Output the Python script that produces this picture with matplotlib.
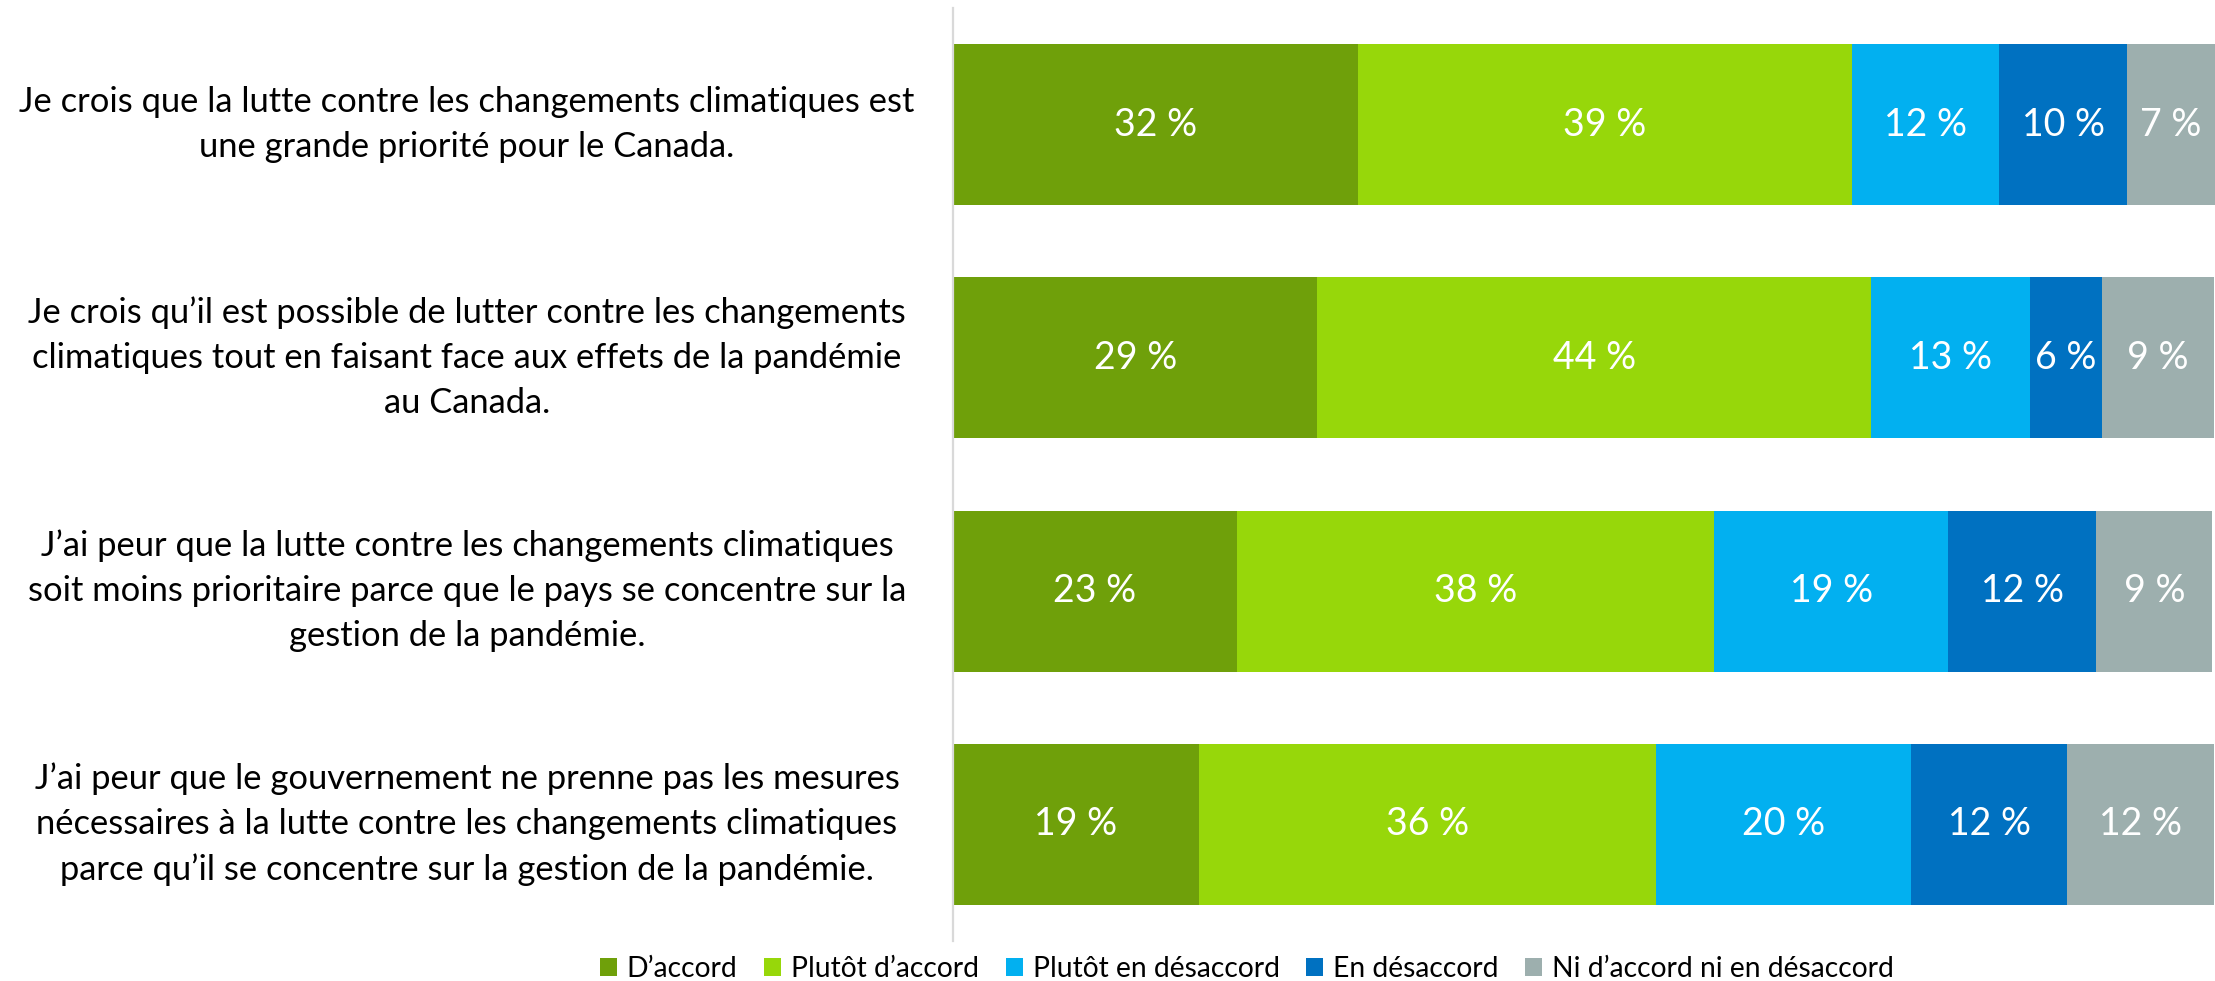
import numpy as np
import matplotlib.pyplot as plt
from matplotlib.patches import Patch

plt.rcParams['font.family'] = ['Lato', 'DejaVu Sans']

# statements (top to bottom)
statements = [
    "Je crois que la lutte contre les changements climatiques est\nune grande priorité pour le Canada.",
    "Je crois qu\u2019il est possible de lutter contre les changements\nclimatiques tout en faisant face aux effets de la pandémie\nau Canada.",
    "J\u2019ai peur que la lutte contre les changements climatiques\nsoit moins prioritaire parce que le pays se concentre sur la\ngestion de la pandémie.",
    "J\u2019ai peur que le gouvernement ne prenne pas les mesures\nnécessaires à la lutte contre les changements climatiques\nparce qu\u2019il se concentre sur la gestion de la pandémie.",
]

categories = ["D\u2019accord", "Plutôt d\u2019accord", "Plutôt en désaccord",
              "En désaccord", "Ni d\u2019accord ni en désaccord"]

# bar shares (%), one list per category
d_accord        = [32.1, 28.9, 22.5, 19.5]
plutot_accord   = [39.2, 43.9, 37.9, 36.3]
plutot_desacc   = [11.7, 12.6, 18.5, 20.2]
en_desaccord    = [10.1, 5.7, 11.8, 12.4]
ni_ni           = [7.0, 8.9, 9.2, 11.6]

# printed labels
lab_d_accord      = [32, 29, 23, 19]
lab_plutot_accord = [39, 44, 38, 36]
lab_plutot_desacc = [12, 13, 19, 20]
lab_en_desaccord  = [10, 6, 12, 12]
lab_ni_ni         = [7, 9, 9, 12]

colors = ["#6FA00A", "#97D70A", "#02B0F0", "#0071C1", "#9DAFAE"]

series = [d_accord, plutot_accord, plutot_desacc, en_desaccord, ni_ni]
labels = [lab_d_accord, lab_plutot_accord, lab_plutot_desacc, lab_en_desaccord, lab_ni_ni]

fig = plt.figure(figsize=(22.15, 9.81), dpi=100)
ax = fig.add_axes([953 / 2215, 40 / 981, 1 - 953 / 2215, 933 / 981])

y = np.arange(len(statements))
left = np.zeros(len(statements))
for vals, labs, col in zip(series, labels, colors):
    vals = np.array(vals)
    ax.barh(y, vals, left=left, height=0.69, color=col, edgecolor='none')
    for yi, (l, v, t) in enumerate(zip(left, vals, labs)):
        ax.text(l + v / 2, yi, f"{t} %", ha='center', va='center',
                color='white', fontsize=27)
    left += vals

ax.set_xlim(0, left.max())
ax.set_ylim(3.5, -0.5)
ax.set_xticks([])
ax.set_yticks([])
for s in ['top', 'right', 'bottom']:
    ax.spines[s].set_visible(False)
ax.spines['left'].set_color('#D9D9D9')
ax.spines['left'].set_linewidth(1.6)

# statement labels, centred in the left margin
for yi, txt in enumerate(statements):
    yf = ax.transData.transform((0, yi))[1]
    fig.text(467 / 2215, yf / fig.bbox.height, txt, ha='center', va='center',
             fontsize=24.8, linespacing=1.5, color='black')

handles = [Patch(facecolor=c, edgecolor='none') for c in colors]
fig.legend(handles, categories, loc='center', bbox_to_anchor=(1247 / 2215, 12 / 981),
           ncol=5, frameon=False, fontsize=20.3, handlelength=0.6, handleheight=0.6,
           handletextpad=0.35, columnspacing=0.95, borderaxespad=0)

fig.savefig('out.png', dpi=100)
